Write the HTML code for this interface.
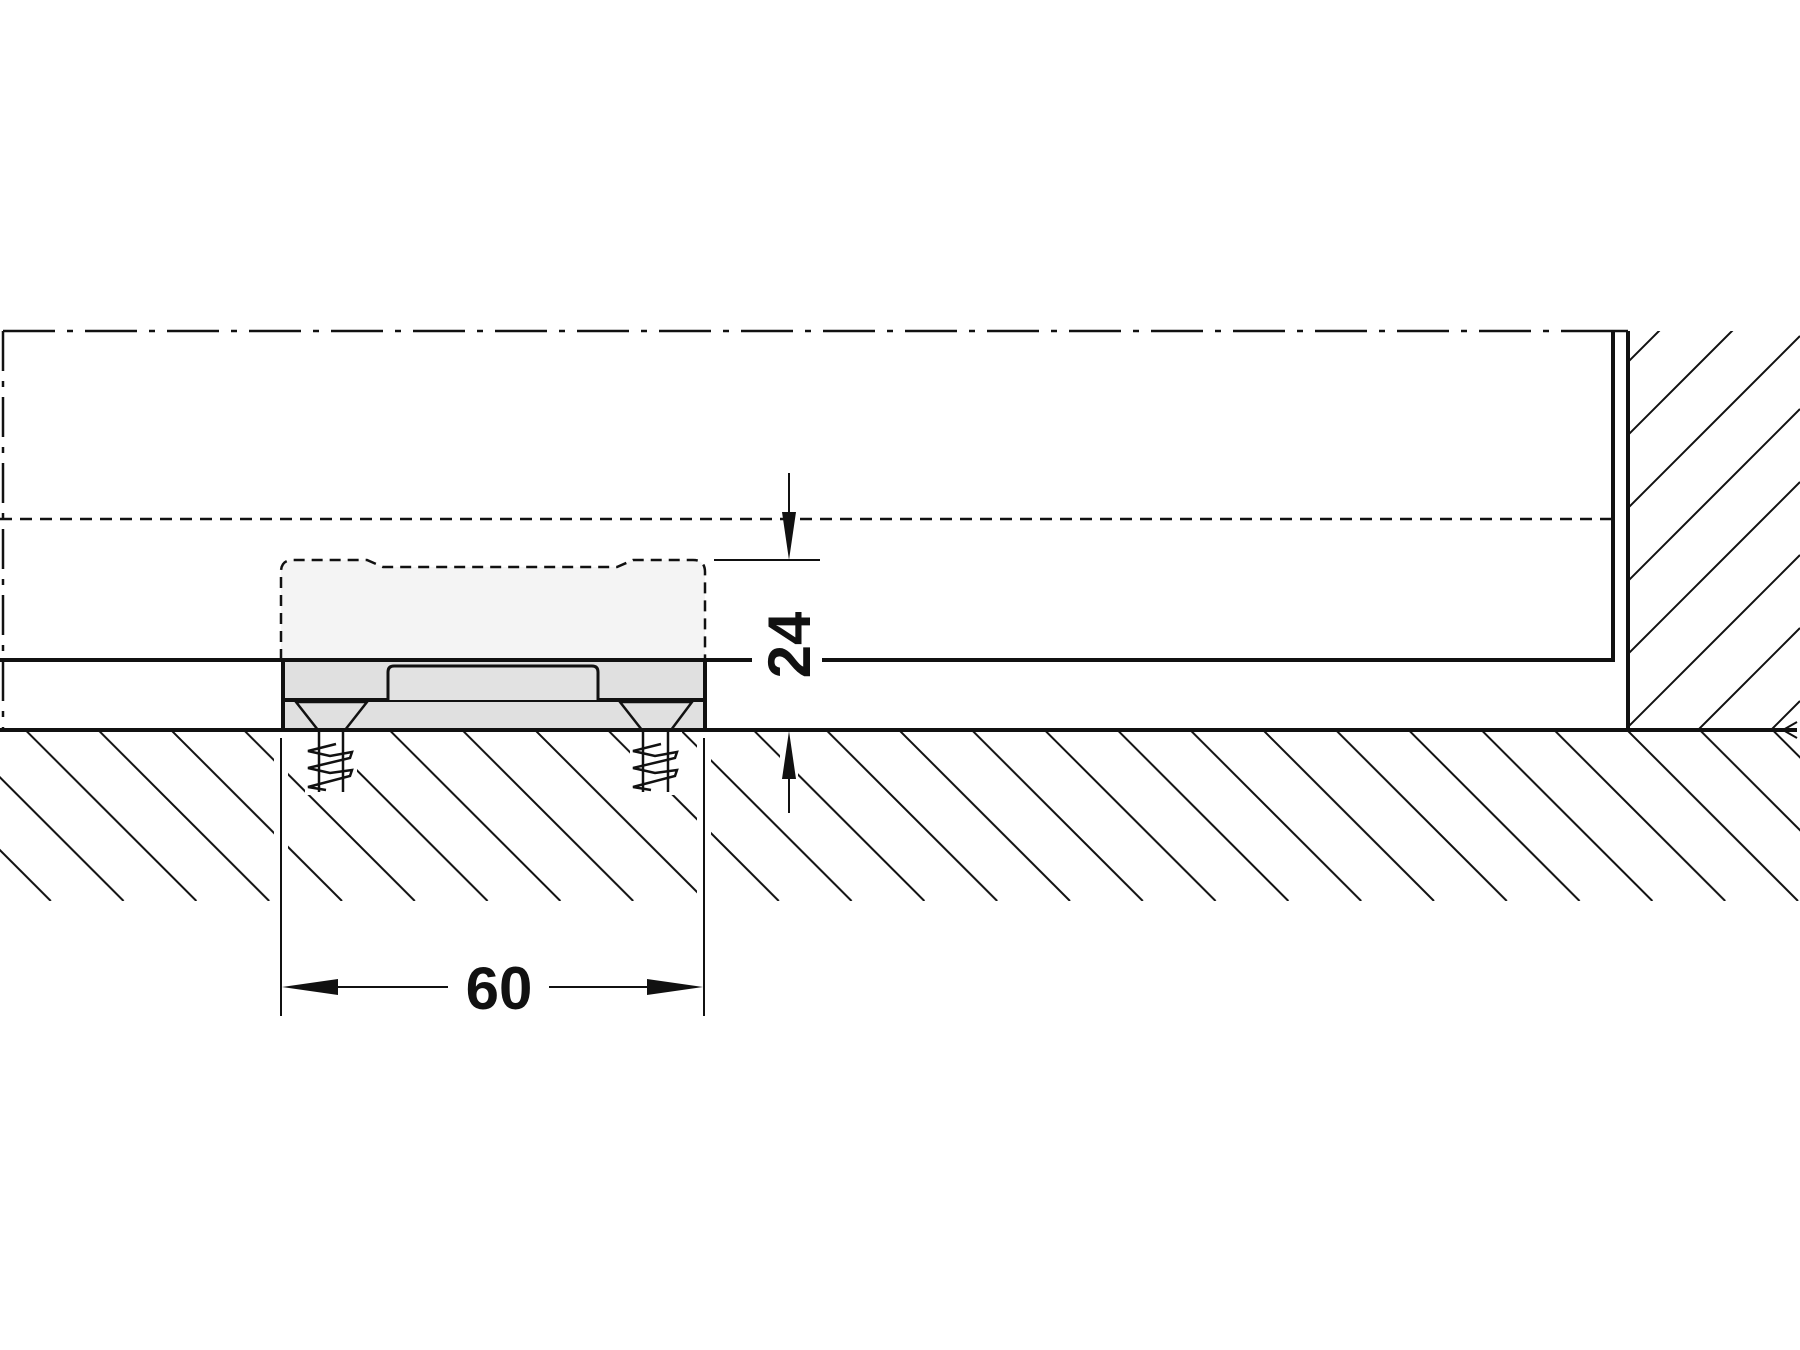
<!DOCTYPE html>
<html><head><meta charset="utf-8"><style>
html,body{margin:0;padding:0;background:#fff;}
svg{display:block;}
text{font-family:"Liberation Sans",Arial,sans-serif;font-weight:bold;fill:#111;}
</style></head><body>
<svg width="1800" height="1350" viewBox="0 0 1800 1350" xmlns="http://www.w3.org/2000/svg">
<defs>
<pattern id="fh" patternUnits="userSpaceOnUse" x="25.4" y="730" width="72.8" height="171">
<line x1="0" y1="0" x2="171" y2="171" stroke="#111" stroke-width="2"/>
<line x1="-72.8" y1="0" x2="98.2" y2="171" stroke="#111" stroke-width="2"/>
<line x1="-145.6" y1="0" x2="25.4" y2="171" stroke="#111" stroke-width="2"/>
</pattern>
<clipPath id="wc"><rect x="1628" y="331" width="172" height="399"/></clipPath>
</defs>
<rect width="1800" height="1350" fill="#fff"/>

<rect x="0" y="731" width="1800" height="170" fill="url(#fh)"/>
<rect x="274" y="731" width="14" height="175" fill="#fff"/>
<rect x="697" y="731" width="14" height="175" fill="#fff"/>
<rect x="780" y="731" width="18" height="86" fill="#fff"/>
<rect x="305" y="731" width="52" height="64" fill="#fff"/>
<rect x="630" y="731" width="52" height="64" fill="#fff"/>

<g clip-path="url(#wc)" stroke="#111" stroke-width="2">
<line x1="1400" y1="590" x2="1800" y2="190"/>
<line x1="1400" y1="663" x2="1800" y2="263"/>
<line x1="1400" y1="736" x2="1800" y2="336"/>
<line x1="1400" y1="809" x2="1800" y2="409"/>
<line x1="1400" y1="882" x2="1800" y2="482"/>
<line x1="1400" y1="955" x2="1800" y2="555"/>
<line x1="1400" y1="1028" x2="1800" y2="628"/>
<line x1="1400" y1="1101" x2="1800" y2="701"/>
</g>

<g stroke="#111" stroke-width="2.5" fill="none">
<line x1="3" y1="331" x2="1616" y2="331" stroke-dasharray="52 12 6 12"/>
<line x1="3" y1="331" x2="3" y2="730" stroke-dasharray="40 10 6 10"/>
<line x1="0" y1="519" x2="1613" y2="519" stroke-dasharray="12 8"/>
</g>

<path d="M281 660 L281 572 Q281 560 293 560 L367 560 L383 567 L617 567 L633 560 L693 560 Q705 560 705 572 L705 660 Z" fill="#f4f4f4" stroke="#111" stroke-width="2.5" stroke-dasharray="11 7"/>

<g stroke="#111" fill="none">
<polyline points="0,660 752,660" stroke-width="4"/>
<polyline points="822,660 1613,660 1613,331" stroke-width="4"/>
<line x1="1628" y1="331" x2="1628" y2="730" stroke-width="4"/>
<line x1="1613" y1="331" x2="1628" y2="331" stroke-width="2.5"/>
</g>

<rect x="283" y="660" width="422" height="70" fill="#e0e0e0" stroke="#111" stroke-width="4"/>
<line x1="283" y1="700" x2="705" y2="700" stroke="#111" stroke-width="4"/>
<path d="M388 700 L388 672 Q388 666 394 666 L592 666 Q598 666 598 672 L598 700" fill="#e2e2e2" stroke="#111" stroke-width="3"/>

<g stroke="#111" stroke-width="2.5" fill="#e0e0e0">
<path d="M296 702 L367 702 L345 730 L318 730 Z"/>
<path d="M620 702 L692 702 L671 730 L642 730 Z"/>
</g>
<g stroke="#111" stroke-width="2.5" fill="none">
<line x1="319" y1="730" x2="319" y2="792"/><line x1="343" y1="730" x2="343" y2="792"/>
<line x1="643" y1="730" x2="643" y2="792"/><line x1="668" y1="730" x2="668" y2="792"/>
<polyline points="336,744 308,751 330,756 352,752 350,758 308,768 330,773 352,770 350,776 308,787 326,790"/>
<polyline points="661,744 633,751 655,756 677,752 675,758 633,768 655,773 677,770 675,776 633,787 651,790"/>
</g>

<line x1="0" y1="730" x2="1797" y2="730" stroke="#111" stroke-width="4"/>
<polyline points="1797,722 1783,730 1797,738" fill="none" stroke="#111" stroke-width="2"/>

<g stroke="#111" stroke-width="2">
<line x1="789" y1="473" x2="789" y2="522"/>
<line x1="714" y1="560" x2="820" y2="560"/>
<line x1="789" y1="770" x2="789" y2="813"/>
</g>
<path d="M789 560 L782 512 L796 512 Z" fill="#111"/>
<path d="M789 731 L782 779 L796 779 Z" fill="#111"/>
<text x="0" y="0" font-size="60" text-anchor="middle" transform="translate(810 645) rotate(-90)">24</text>

<g stroke="#111" stroke-width="2">
<line x1="281" y1="738" x2="281" y2="1016"/>
<line x1="704" y1="738" x2="704" y2="1016"/>
<line x1="330" y1="987" x2="448" y2="987"/>
<line x1="549" y1="987" x2="655" y2="987"/>
</g>
<path d="M282 987 L338 979 L338 995 Z" fill="#111"/>
<path d="M703 987 L647 979 L647 995 Z" fill="#111"/>
<text x="499" y="1009" font-size="60" text-anchor="middle">60</text>
</svg>
</body></html>
